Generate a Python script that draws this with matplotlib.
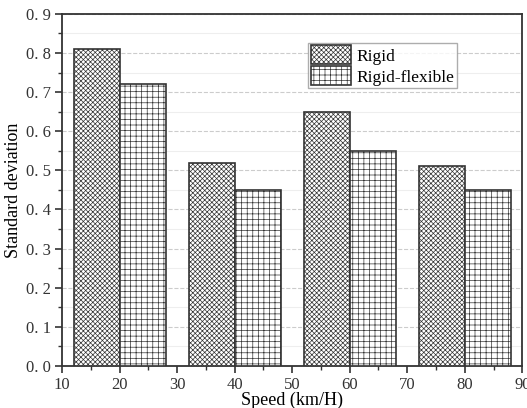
import numpy as np
import matplotlib.pyplot as plt
from matplotlib.ticker import MultipleLocator

plt.rcParams['font.family'] = ['Liberation Serif', 'DejaVu Serif']
plt.rcParams['hatch.linewidth'] = 0.5
plt.rcParams['hatch.color'] = '#444444'

speeds = [20, 40, 60, 80]
rigid = [0.81, 0.52, 0.65, 0.51]
rigid_flexible = [0.72, 0.45, 0.55, 0.45]
labels = ["Rigid", "Rigid-flexible"]

fig = plt.figure(figsize=(5.27, 4.08), dpi=100)
ax = fig.add_axes([0.118, 0.103, 0.873, 0.863])

x = np.array(speeds)
w = 8
ax.bar(x - w / 2, rigid, width=w, facecolor='white', edgecolor='#333333',
       linewidth=1.2, hatch='xxxxxxx', label=labels[0], zorder=3)
ax.bar(x + w / 2, rigid_flexible, width=w, facecolor='white', edgecolor='#333333',
       linewidth=1.2, hatch='+++', label=labels[1], zorder=3)

ax.set_xlim(10, 90)
ax.set_ylim(0, 0.9)
ax.xaxis.set_major_locator(MultipleLocator(10))
ax.xaxis.set_minor_locator(MultipleLocator(5))
ax.yaxis.set_major_locator(MultipleLocator(0.1))
ax.yaxis.set_minor_locator(MultipleLocator(0.05))
ax.yaxis.set_major_formatter(plt.FuncFormatter(lambda v, p: f"{v:.1f}".replace(".", ". ")))

ax.grid(axis='y', which='major', linestyle='--', color='#cccccc', linewidth=0.8, zorder=0)
ax.grid(axis='y', which='minor', linestyle='-', color='#eeeeee', linewidth=0.8, zorder=0)

for s in ax.spines.values():
    s.set_linewidth(1.3)
    s.set_color('#333333')
ax.tick_params(which='major', direction='out', length=5, width=1.2, labelsize=12,
               colors='#333333', pad=3)
ax.tick_params(which='minor', direction='out', length=3, width=1.0, colors='#333333')

ax.set_xlabel("Speed (km/H)", fontsize=13, labelpad=-1)
ax.set_ylabel("Standard deviation", fontsize=13, labelpad=3)

ax.legend(loc='upper left', bbox_to_anchor=(0.535, 0.918), borderaxespad=0,
          fontsize=12.5, frameon=True, fancybox=False, edgecolor='#999999',
          handlelength=2.3, handleheight=1.3, borderpad=0.15, labelspacing=0.1,
          handletextpad=0.3)

fig.savefig("out.png", dpi=100)
